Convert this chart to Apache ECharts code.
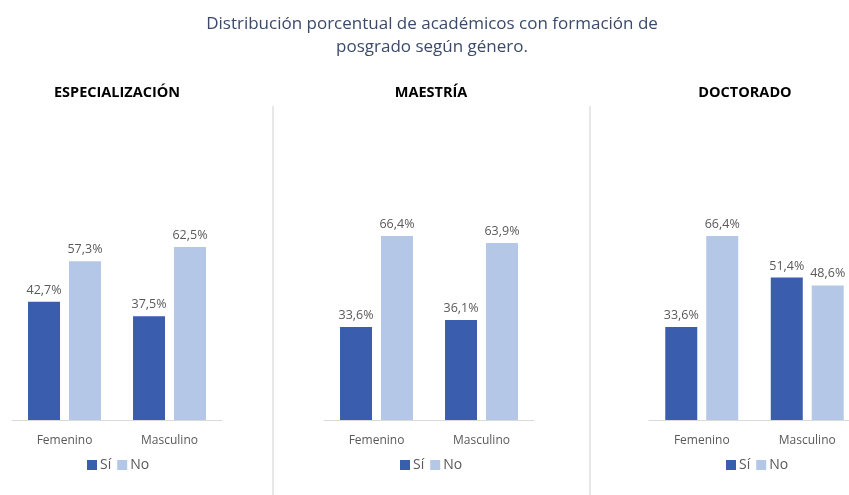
<!DOCTYPE html>
<html>
<head>
<meta charset="utf-8">
<script src="https://cdn.jsdelivr.net/npm/echarts@6/dist/echarts.min.js"></script>
<style>
  html, body { margin: 0; padding: 0; background: #fff; }
  #chart { width: 849px; height: 495px; }
</style>
</head>
<body>
<div id="chart"></div>
<script>
// datos (porcentajes)
const categorias = ['Femenino', 'Masculino'];
const paneles = ['ESPECIALIZACIÓN', 'MAESTRÍA', 'DOCTORADO'];
const serieNombres = ['Sí', 'No'];
const siValores = [
  [42.7, 37.5],
  [33.6, 36.1],
  [33.6, 51.4]
];
const noValores = [
  [57.3, 62.5],
  [66.4, 63.9],
  [66.4, 48.6]
];

const colorSi = '#3a5dae';
const colorNo = '#b4c7e7';
const gris = '#595959';
const fuente = "'Open Sans', 'Noto Sans', sans-serif";

// posición de cada panel
const gridLeft = [12, 324, 649];
const gridWidth = [210, 210, 211];
const tituloCentro = [117, 431, 745];
const leyendaLeft = [87, 400, 726];

const chart = echarts.init(document.getElementById('chart'));

const grids = [], xAxes = [], yAxes = [], series = [], titles = [], legends = [];

titles.push({
  text: 'Distribución porcentual de académicos con formación de\nposgrado según género.',
  left: 432, top: 13, textAlign: 'center', padding: 0,
  textStyle: { fontFamily: fuente, fontSize: 17, fontWeight: 'normal', color: '#3b4a6b', lineHeight: 23 }
});

paneles.forEach((nombre, i) => {
  grids.push({ left: gridLeft[i], width: gridWidth[i], top: 143, bottom: 75, outerBoundsMode: 'none' });
  xAxes.push({
    type: 'category', gridIndex: i, data: categorias,
    axisLine: { lineStyle: { color: '#d9d9d9' } },
    axisTick: { show: false },
    axisLabel: { color: gris, fontFamily: fuente, fontSize: 12, margin: 15 }
  });
  yAxes.push({ type: 'value', gridIndex: i, min: 0, max: 100, show: false, splitLine: { show: false } });
  titles.push({
    text: nombre, left: tituloCentro[i], top: 85, textAlign: 'center', padding: 0,
    textStyle: { fontFamily: fuente, fontSize: 14.5, fontWeight: 'bold', color: '#000' }
  });
  const etiqueta = {
    show: true, position: 'top', distance: 5, color: gris, fontFamily: fuente, fontSize: 12.5,
    formatter: p => p.value.toFixed(1).replace('.', ',') + '%'
  };
  series.push({
    name: serieNombres[0], type: 'bar', xAxisIndex: i, yAxisIndex: i,
    data: siValores[i], barWidth: 32, barGap: '28%',
    itemStyle: { color: colorSi }, label: etiqueta
  });
  series.push({
    name: serieNombres[1], type: 'bar', xAxisIndex: i, yAxisIndex: i,
    data: noValores[i], barWidth: 32, barGap: '28%',
    itemStyle: { color: colorNo }, label: etiqueta
  });
  legends.push({
    data: serieNombres, left: leyendaLeft[i], top: 458, padding: 0,
    itemWidth: 10, itemHeight: 10, itemGap: 6, icon: 'rect',
    textStyle: { color: gris, fontFamily: fuente, fontSize: 14, padding: [0, 0, 0, -2] },
    selectedMode: false
  });
});

// separadores verticales entre paneles
const separadores = [273, 590].map(x => ({
  type: 'line',
  shape: { x1: x, y1: 106, x2: x, y2: 495 },
  style: { stroke: '#d0d0d0', lineWidth: 1 }
}));

chart.setOption({
  backgroundColor: '#fff',
  animation: false,
  title: titles,
  legend: legends,
  grid: grids,
  xAxis: xAxes,
  yAxis: yAxes,
  series: series,
  graphic: separadores
});
</script>
</body>
</html>
